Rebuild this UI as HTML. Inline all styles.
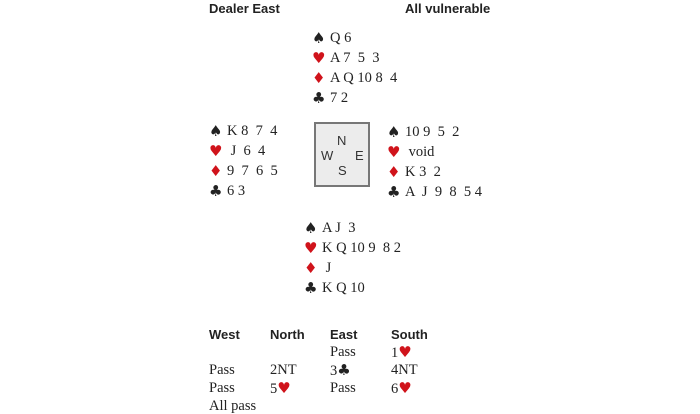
<!DOCTYPE html>
<html><head><style>
body{margin:0;width:700px;height:413px;background:#fff;position:relative;overflow:hidden;font-family:"Liberation Serif",serif;font-size:14.5px;color:#222}
.a{position:absolute;line-height:16px;white-space:pre}
.h{font-family:"Liberation Sans",sans-serif;font-weight:bold;font-size:13px}
.r{color:#d0131b}
.s{font-size:15px;display:inline-block;width:18px;font-family:"DejaVu Sans",sans-serif;line-height:16px;vertical-align:top}
.i{font-size:15px;font-family:"DejaVu Sans",sans-serif;line-height:16px}
.box{position:absolute;left:314px;top:122px;width:52px;height:61px;background:#ececec;border:2px solid #777}
.c{position:absolute;font-family:"Liberation Sans",sans-serif;font-size:13px;line-height:13px;color:#333}
</style></head><body>
<div class="a h" style="left:209px;top:1px">Dealer East</div>
<div class="a h" style="left:405px;top:1px">All vulnerable</div>

<div class="a" style="left:312px;top:30px"><span class="s">♠</span>Q 6</div>
<div class="a" style="left:312px;top:50px"><span class="s r">♥</span>A 7  5  3</div>
<div class="a" style="left:312px;top:70px"><span class="s r">♦</span>A Q 10 8  4</div>
<div class="a" style="left:312px;top:90px"><span class="s">♣</span>7 2</div>

<div class="a" style="left:209px;top:123px"><span class="s">♠</span>K 8  7  4</div>
<div class="a" style="left:209px;top:143px"><span class="s r">♥</span> J  6  4</div>
<div class="a" style="left:209px;top:163px"><span class="s r">♦</span>9  7  6  5</div>
<div class="a" style="left:209px;top:183px"><span class="s">♣</span>6 3</div>

<div class="box"></div>
<div class="c" style="left:337px;top:134px">N</div>
<div class="c" style="left:321px;top:149px">W</div>
<div class="c" style="left:355px;top:149px">E</div>
<div class="c" style="left:338px;top:164px">S</div>

<div class="a" style="left:387px;top:124px"><span class="s">♠</span>10 9  5  2</div>
<div class="a" style="left:387px;top:144px"><span class="s r">♥</span> void</div>
<div class="a" style="left:387px;top:164px"><span class="s r">♦</span>K 3  2</div>
<div class="a" style="left:387px;top:184px"><span class="s">♣</span>A  J  9  8  5 4</div>

<div class="a" style="left:304px;top:220px"><span class="s">♠</span>A J  3</div>
<div class="a" style="left:304px;top:240px"><span class="s r">♥</span>K Q 10 9  8 2</div>
<div class="a" style="left:304px;top:260px"><span class="s r">♦</span> J</div>
<div class="a" style="left:304px;top:280px"><span class="s">♣</span>K Q 10</div>

<div class="a h" style="left:209px;top:327px">West</div>
<div class="a h" style="left:270px;top:327px">North</div>
<div class="a h" style="left:330px;top:327px">East</div>
<div class="a h" style="left:391px;top:327px">South</div>

<div class="a" style="left:330px;top:344px">Pass</div>
<div class="a" style="left:391px;top:344px">1<span class="i r">♥</span></div>
<div class="a" style="left:209px;top:362px">Pass</div>
<div class="a" style="left:270px;top:362px">2NT</div>
<div class="a" style="left:330px;top:362px">3<span class="i">♣</span></div>
<div class="a" style="left:391px;top:362px">4NT</div>
<div class="a" style="left:209px;top:380px">Pass</div>
<div class="a" style="left:270px;top:380px">5<span class="i r">♥</span></div>
<div class="a" style="left:330px;top:380px">Pass</div>
<div class="a" style="left:391px;top:380px">6<span class="i r">♥</span></div>
<div class="a" style="left:209px;top:398px">All pass</div>
</body></html>
